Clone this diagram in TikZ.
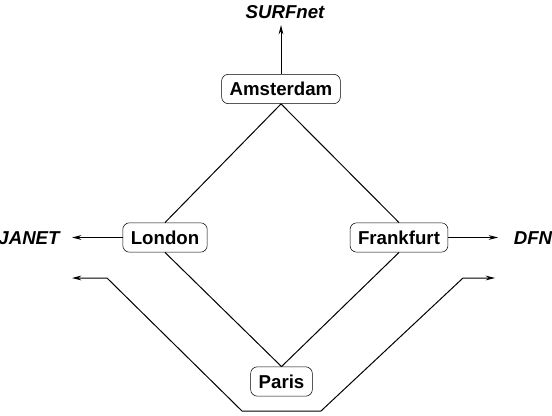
\documentclass[tikz,border=0pt]{standalone}
\usepackage{fontspec}
\setmainfont{Liberation Sans}
\usetikzlibrary{arrows.meta}

\tikzset{
  city/.style={draw, rectangle, rounded corners=5pt, minimum height=22pt, inner xsep=6pt, font=\fontsize{14}{16}\selectfont\bfseries},
  net/.style={font=\fontsize{14}{16}\selectfont\bfseries\itshape},
  link/.style={line width=0.75pt},
  exitlink/.style={line width=0.75pt, -{Stealth[length=7pt, width=3.5pt]}}
}

\begin{document}
\begin{tikzpicture}[x=0.75pt, y=-0.75pt]
        \useasboundingbox (0,0) rectangle (552,416);

        \node (amsterdam) [city] at (281,89) {Amsterdam};
        \node (london) [city] at (165,237.5) {London};
        \node (frankfurt) [city] at (399,237.5) {Frankfurt};
        \node (paris) [city] at (281.5,381.5) {Paris};

        \node (surfnet) [net] at (285,12) {SURFnet};
        \node (janet) [net] at (29,238) {JANET};
        \node (dfn) [net] at (533,238) {DFN};

        \coordinate (surftip) at (281,25);
        \coordinate (janettip) at (72,237.5);
        \coordinate (dfntip) at (498,237.5);

        \draw[link] (amsterdam.south) -- (london.north);
        \draw[link] (amsterdam.south) -- (frankfurt.north);
        \draw[link] (london.south) -- (paris.north);
        \draw[link] (frankfurt.south) -- (paris.north);

        \draw[exitlink] (amsterdam.north) -- (surftip);
        \draw[exitlink] (london.west) -- (janettip);
        \draw[exitlink] (frankfurt.east) -- (dfntip);

        % route round Paris
        \coordinate (lowleft) at (72,278);
        \coordinate (bendleft) at (107,278);
        \coordinate (bottomleft) at (242,411);
        \coordinate (bottomright) at (321,411);
        \coordinate (bendright) at (463,278);
        \coordinate (lowright) at (495,278);
        \draw[link, {Stealth[length=7pt, width=3.5pt]}-{Stealth[length=7pt, width=3.5pt]}]
            (lowleft) -- (bendleft) -- (bottomleft) -- (bottomright) -- (bendright) -- (lowright);
\end{tikzpicture}
\end{document}
